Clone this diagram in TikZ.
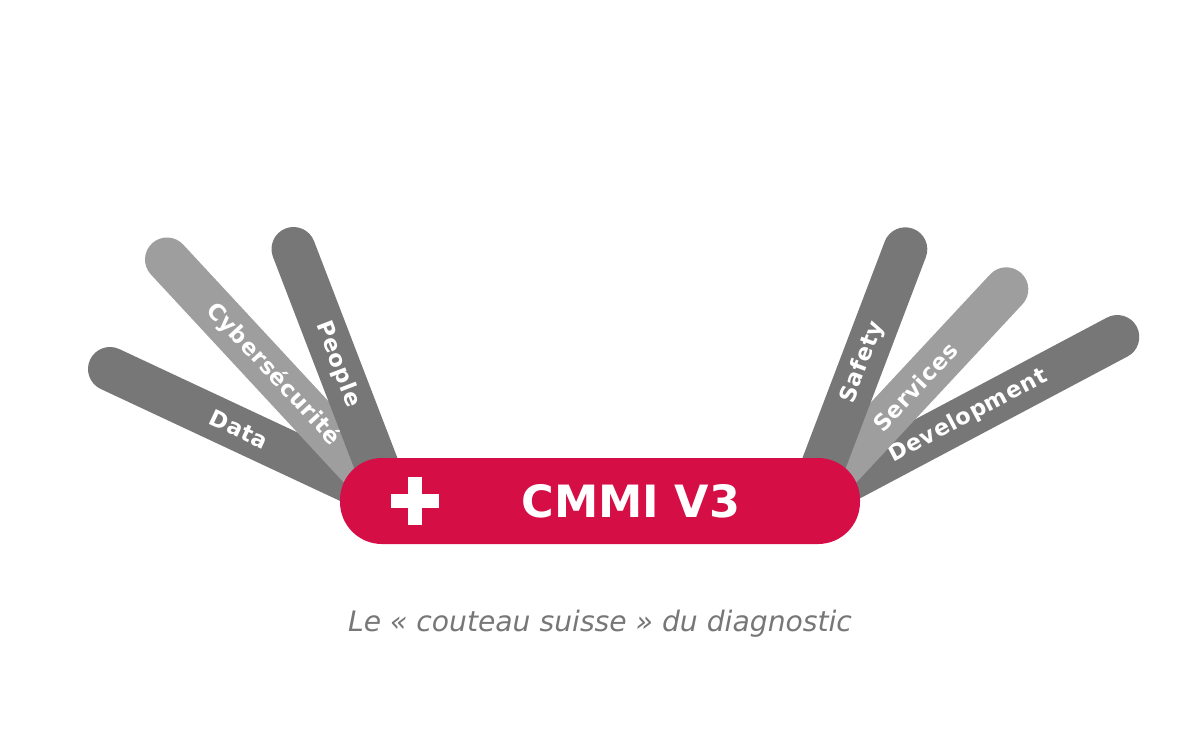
\documentclass[tikz,border=0pt]{standalone}
\usepackage{fontspec}
\setmainfont{DejaVu Sans}
\newfontfamily\bladefont[LetterSpace=3]{DejaVu Sans Bold}
\usepackage{tikz}
\definecolor{swissRed}{RGB}{213,14,69}
\definecolor{bladeGray}{RGB}{119,119,119}
\definecolor{lightBladeGray}{RGB}{158,158,158}
\definecolor{captionGray}{RGB}{119,119,119}

\begin{document}
\begin{tikzpicture}[x=1pt, y=-1pt,
	blade/.style={line width=44pt, line cap=round, bladeGray},
	lightblade/.style={blade, lightBladeGray},
	bladetext/.style={sloped, white, inner sep=0pt, font=\bladefont\fontsize{22.5}{27}\selectfont}]
	\fill[white] (0,0) rectangle (1200,750);
	\useasboundingbox (0,0) rectangle (1200,750);
	\coordinate (pivotL) at (390,500);
	\coordinate (pivotR) at (810,500);
	\coordinate (dataTip) at (110,369);
	\coordinate (cyberTip) at (167,259.5);
	\coordinate (peopleTip) at (293.5,249);
	\coordinate (safetyTip) at (905.3,249.3);
	\coordinate (servicesTip) at (1006.3,289.3);
	\coordinate (devTip) at (1117.3,337);
	\draw[blade] (dataTip) -- (pivotL) node[bladetext, pos=0.461] (data) {Data};
	\draw[lightblade] (cyberTip) -- (pivotL) node[bladetext, pos=0.477] (cyber) {Cybersécurité};
	\draw[blade] (peopleTip) -- (pivotL) node[bladetext, pos=0.46] (people) {People};
	\draw[blade] (pivotR) -- (devTip) node[bladetext, pos=0.515] (dev) {Development};
	\draw[lightblade] (pivotR) -- (servicesTip) node[bladetext, pos=0.535] (services) {Services};
	\draw[blade] (pivotR) -- (safetyTip) node[bladetext, pos=0.55] (safety) {Safety};
	\node[fill=swissRed, rounded corners=42pt, minimum width=520pt, minimum height=86pt] (knife) at (600,501) {};
	\fill[white] (408,477) rectangle (421.5,525);
	\fill[white] (391,494) rectangle (439,508);
	\node[white, inner sep=0pt, font=\bfseries\fontsize{44.5}{52}\selectfont] (title) at (631,501) {CMMI V3};
	\node[captionGray, anchor=base, font=\itshape\fontsize{28.2}{33}\selectfont] (caption) at (600,631) {Le « couteau suisse » du diagnostic};
\end{tikzpicture}
\end{document}
